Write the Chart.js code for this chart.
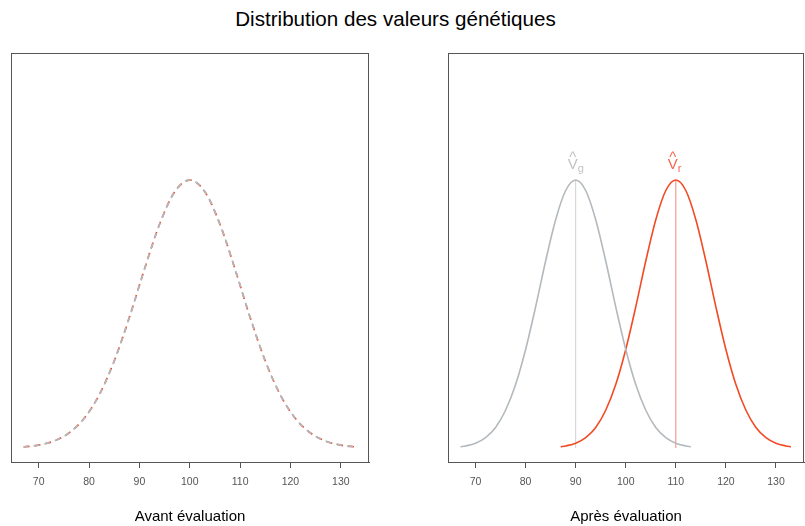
<!DOCTYPE html>
<html lang="fr">
<head>
<meta charset="utf-8">
<script src="https://cdn.jsdelivr.net/npm/chart.js@4"></script>
<style>
  body { margin: 0; background: #fff; }
  #page { position: relative; width: 805px; height: 526px; overflow: hidden; }
  #titre {
    position: absolute; left: 0; top: 9px; width: 791px;
    text-align: center; font: 20.6px "Liberation Sans", Arial, sans-serif;
    line-height: 20px; color: #000;
  }
  #gauche { position: absolute; left: 0; top: 0; }
  #droite { position: absolute; left: 420px; top: 0; }
</style>
</head>
<body>
<div id="page">
  <div id="titre">Distribution des valeurs génétiques</div>
  <canvas id="gauche" width="400" height="526"></canvas>
  <canvas id="droite" width="385" height="526"></canvas>
</div>
<script>
// valeurs (hauteur relative, 100 = sommet)
const tickValues = [70, 80, 90, 100, 110, 120, 130];

const avantX = [67, 70, 73, 76, 79, 82, 85, 88, 91, 94, 97, 100, 103, 106, 109, 112, 115, 118, 121, 124, 127, 130, 133];
const avantRouge = [0.4, 1.1, 2.6, 5.6, 11.0, 19.8, 32.5, 48.7, 66.7, 83.5, 95.6, 100, 95.6, 83.5, 66.7, 48.7, 32.5, 19.8, 11.0, 5.6, 2.6, 1.1, 0.4];
const avantGris = [0.4, 1.1, 2.6, 5.6, 11.0, 19.8, 32.5, 48.7, 66.7, 83.5, 95.6, 100, 95.6, 83.5, 66.7, 48.7, 32.5, 19.8, 11.0, 5.6, 2.6, 1.1, 0.4];

const apresGrisX = [67, 68, 70, 72, 74, 76, 78, 80, 82, 84, 86, 88, 90, 92, 94, 96, 98, 100, 102, 104, 106, 108, 110, 112, 113];
const apresGris = [0.5, 0.8, 1.8, 3.9, 7.7, 14.1, 23.7, 36.8, 52.7, 69.8, 85.2, 96.1, 100, 96.1, 85.2, 69.8, 52.7, 36.8, 23.7, 14.1, 7.7, 3.9, 1.8, 0.8, 0.5];
const apresRougeX = [87, 88, 90, 92, 94, 96, 98, 100, 102, 104, 106, 108, 110, 112, 114, 116, 118, 120, 122, 124, 126, 128, 130, 132, 133];
const apresRouge = [0.5, 0.8, 1.8, 3.9, 7.7, 14.1, 23.7, 36.8, 52.7, 69.8, 85.2, 96.1, 100, 96.1, 85.2, 69.8, 52.7, 36.8, 23.7, 14.1, 7.7, 3.9, 1.8, 0.8, 0.5];

const moyenneGris = 90;
const moyenneRouge = 110;
const sommet = 100;

const ROUGE = '#F24A25';
const GRIS = '#B3B9BD';
const police = '"Liberation Sans", Arial, sans-serif';

const pts = (xs, ys) => xs.map((x, i) => ({ x: x, y: ys[i] }));

// cadre autour de la zone de tracé
const cadre = {
  id: 'cadre',
  afterDraw(chart) {
    const a = chart.chartArea, ctx = chart.ctx;
    ctx.save();
    ctx.strokeStyle = '#555';
    ctx.lineWidth = 1;
    ctx.strokeRect(a.left + 0.5, a.top + 0.5, a.right - a.left - 1, a.bottom - a.top);
    ctx.restore();
  }
};

function echelles(titre) {
  return {
    x: {
      type: 'linear', min: 64.5, max: 135.6,
      afterBuildTicks: s => { s.ticks = tickValues.map(v => ({ value: v })); },
      afterFit: s => { s.height = 64; },
      grid: { drawOnChartArea: false, drawTicks: true, tickLength: 6, color: '#555' },
      border: { display: true, color: '#555' },
      ticks: { color: '#555', font: { family: police, size: 10.5 }, padding: 8, maxRotation: 0 },
      title: { display: true, text: titre, color: '#000', font: { family: police, size: 15 }, padding: { top: 0, bottom: 0 } }
    },
    y: { display: false, min: -5.2, max: 147.4 }
  };
}

const communs = {
  responsive: false,
  animation: false,
  plugins: { legend: { display: false }, tooltip: { enabled: false } },
  elements: { point: { radius: 0 } }
};

new Chart(document.getElementById('gauche').getContext('2d'), {
  type: 'line',
  data: {
    datasets: [
      { data: pts(avantX, avantGris), borderColor: GRIS, borderWidth: 1.7, borderDash: [6, 5], borderDashOffset: 1, cubicInterpolationMode: 'monotone' },
      { data: pts(avantX, avantRouge), borderColor: ROUGE, borderWidth: 1.7, borderDash: [6, 5], cubicInterpolationMode: 'monotone' }
    ]
  },
  options: Object.assign({}, communs, {
    layout: { padding: { left: 11, right: 31, top: 53, bottom: 0 } },
    scales: echelles('Avant évaluation')
  }),
  plugins: [cadre]
});

// étiquettes au-dessus des sommets
const etiquettes = {
  id: 'etiquettes',
  afterDatasetsDraw(chart) {
    const ctx = chart.ctx, sx = chart.scales.x, sy = chart.scales.y;
    const marque = (m, ind, couleur) => {
      const px = sx.getPixelForValue(m), py = sy.getPixelForValue(sommet);
      ctx.save();
      ctx.fillStyle = couleur;
      ctx.textAlign = 'center';
      ctx.textBaseline = 'alphabetic';
      ctx.font = '15px ' + police;
      ctx.fillText('^', px - 3, py - 18);
      ctx.fillText('V', px - 3, py - 11);
      ctx.textAlign = 'left';
      ctx.font = '11px ' + police;
      ctx.fillText(ind, px + 2, py - 8);
      ctx.restore();
    };
    marque(moyenneGris, 'g', '#C3C3C3');
    marque(moyenneRouge, 'r', '#F26A4B');
  }
};

new Chart(document.getElementById('droite').getContext('2d'), {
  type: 'line',
  data: {
    datasets: [
      { data: pts(apresGrisX, apresGris), borderColor: GRIS, borderWidth: 1.6, cubicInterpolationMode: 'monotone' },
      { data: pts(apresRougeX, apresRouge), borderColor: ROUGE, borderWidth: 1.6, cubicInterpolationMode: 'monotone' },
      { data: [{ x: moyenneGris, y: 0 }, { x: moyenneGris, y: sommet }], borderColor: '#CFCFCF', borderWidth: 1 },
      { data: [{ x: moyenneRouge, y: 0 }, { x: moyenneRouge, y: sommet }], borderColor: '#F08A78', borderWidth: 1 }
    ]
  },
  options: Object.assign({}, communs, {
    layout: { padding: { left: 28, right: 1, top: 53, bottom: 0 } },
    scales: echelles('Après évaluation')
  }),
  plugins: [cadre, etiquettes]
});
</script>
</body>
</html>
